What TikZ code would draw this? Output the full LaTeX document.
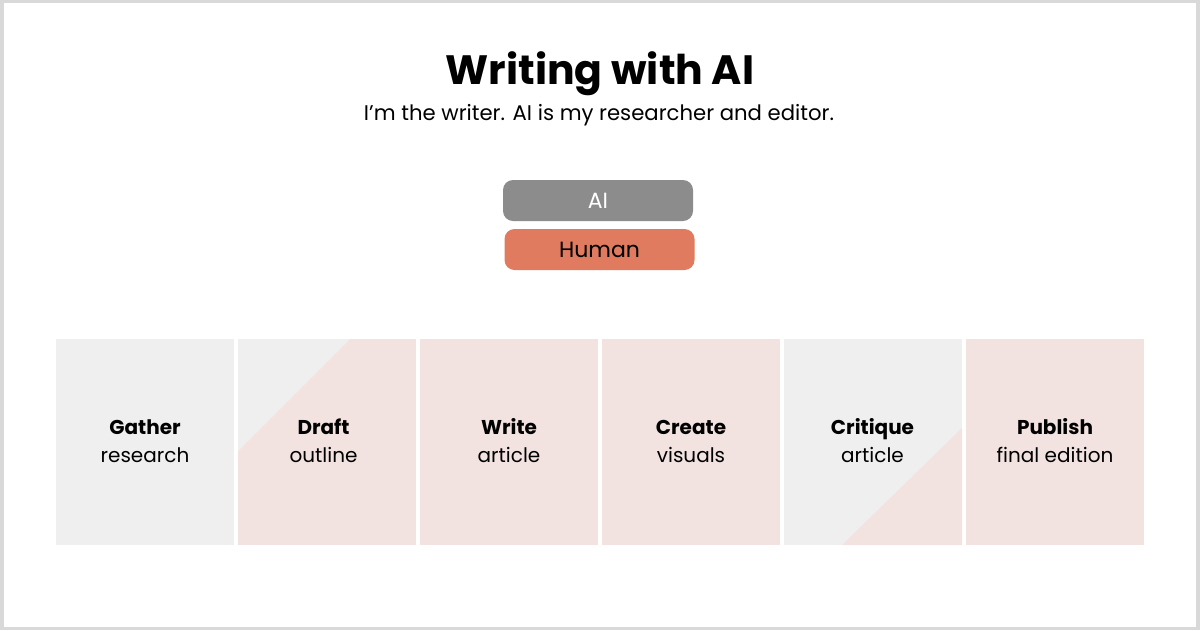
\documentclass[tikz,border=0pt]{standalone}
\usepackage{fontspec}
\setmainfont{Poppins}
\definecolor{frame}{HTML}{D9D9D9}
\definecolor{boxgray}{HTML}{EFEFEF}
\definecolor{boxpink}{HTML}{F3E3E0}
\definecolor{aigray}{HTML}{8C8C8C}
\definecolor{human}{HTML}{E07B5F}
\begin{document}
\begin{tikzpicture}[x=1pt,y=-1pt,
  legend/.style={rounded corners=10pt, minimum width=190pt, minimum height=41pt, inner sep=0pt, font=\fontsize{22}{26}\selectfont},
  boldlab/.style={anchor=base, font=\fontsize{20}{24}\selectfont\bfseries},
  normlab/.style={anchor=base, font=\fontsize{20}{24}\selectfont}]
\fill[frame] (0,0) rectangle (1200,630);
\fill[white] (4,3) rectangle (1196,627);
\useasboundingbox (0,0) rectangle (1200,630);
\node[anchor=base, font=\fontsize{41}{48}\selectfont\bfseries] (title) at (600,84) {Writing with AI};
\node[anchor=base, font=\fontsize{21.2}{25}\selectfont] (sub) at (599,120) {I’m the writer. AI is my researcher and editor.};
\node[legend, fill=aigray, text=white] (ai) at (598,200.5) {AI};
\node[legend, fill=human, text=black] (hum) at (599.5,249.5) {Human};
% boxes
\fill[boxgray] (56,339) rectangle (234,545);
\fill[boxpink] (238,339) rectangle (416,545);
\fill[boxgray] (238,339) -- (350,339) -- (238,451) -- cycle;
\fill[boxpink] (420,339) rectangle (598,545);
\fill[boxpink] (602,339) rectangle (780,545);
\fill[boxgray] (784,339) rectangle (962,545);
\fill[boxpink] (962,428) -- (962,545) -- (842,545) -- cycle;
\fill[boxpink] (966,339) rectangle (1144,545);
\node[boldlab] (g1) at (145,434) {Gather};
\node[normlab] (g2) at (145,462) {research};
\node[boldlab] (d1) at (323.5,434) {Draft};
\node[normlab] (d2) at (323.5,462) {outline};
\node[boldlab] (w1) at (509,434) {Write};
\node[normlab] (w2) at (509,462) {article};
\node[boldlab] (c1) at (691,434) {Create};
\node[normlab] (c2) at (691,462) {visuals};
\node[boldlab] (k1) at (872.5,434) {Critique};
\node[normlab] (k2) at (872.5,462) {article};
\node[boldlab] (p1) at (1055,434) {Publish};
\node[normlab] (p2) at (1055,462) {final edition};
\end{tikzpicture}
\end{document}
